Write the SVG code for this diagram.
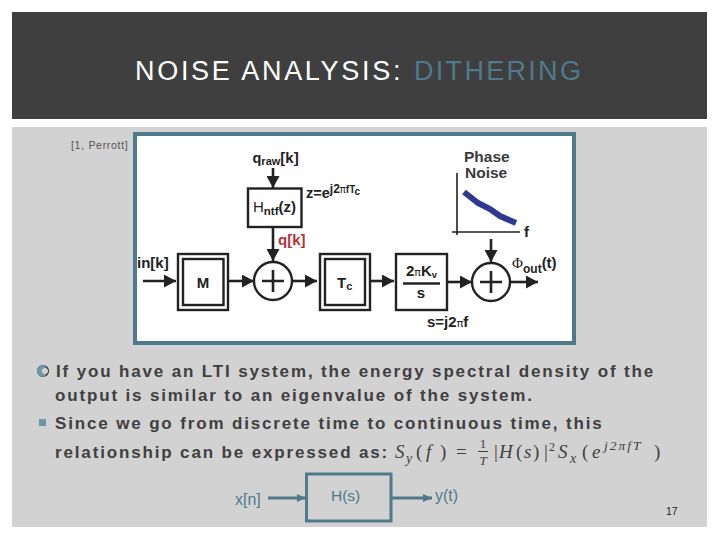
<svg xmlns="http://www.w3.org/2000/svg" width="720" height="540" viewBox="0 0 720 540">
<defs>
<marker id="a" markerUnits="userSpaceOnUse" markerWidth="12" markerHeight="13" refX="12" refY="6.5" orient="auto"><path d="M0 0L12 6.5L0 13Z" fill="#222"/></marker>
<marker id="b" markerUnits="userSpaceOnUse" markerWidth="10" markerHeight="10" refX="9" refY="5" orient="auto"><path d="M0 1L9 5L0 9Z" fill="#4f7a8b"/></marker>
</defs>
<style>
.s{font-family:"Liberation Sans",Arial,sans-serif}
.d{font-family:"Liberation Sans",Arial,sans-serif;fill:#222;font-weight:bold}
.b{font-family:"Liberation Sans",Arial,sans-serif;font-size:17px;font-weight:bold;fill:#404040;letter-spacing:1.85px}
.m{font-family:"Liberation Serif",serif;font-style:italic;fill:#404040}
.box{fill:#fff;stroke:#222;stroke-width:2.4}
.c{stroke:#222;stroke-width:2.6;fill:none}
.t{font-family:"Liberation Sans",Arial,sans-serif;fill:#4f7a8b}
</style>
<rect width="720" height="540" fill="#fff"/>
<rect x="12" y="127" width="695" height="400" fill="#d2d2d2"/>
<rect x="12" y="12" width="695" height="107" fill="#3f3f3f"/>
<text x="135" y="80" class="s" font-size="27" letter-spacing="2.7" fill="#fff">NOISE ANALYSIS:</text>
<text x="414" y="80" class="s" font-size="27" letter-spacing="2.3" fill="#4f7a8b">DITHERING</text>
<text x="71" y="149" class="s" font-size="10.5" letter-spacing="0.7" fill="#555">[1, Perrott]</text>
<rect x="135" y="134" width="439" height="209" fill="#fff" stroke="#4f7a8b" stroke-width="4"/>

<g id="connectors">
<path class="c" marker-end="url(#a)" d="M273 168V188"/>
<path class="c" marker-end="url(#a)" d="M273 227V261"/>
<path class="c" marker-end="url(#a)" d="M143 281H176"/>
<path class="c" marker-end="url(#a)" d="M229 281H254"/>
<path class="c" marker-end="url(#a)" d="M292 281H317"/>
<path class="c" marker-end="url(#a)" d="M371 281H394"/>
<path class="c" marker-end="url(#a)" d="M448 282H472"/>
<path class="c" marker-end="url(#a)" d="M491 239V262"/>
<path class="c" marker-end="url(#a)" d="M510 282H538"/>
<path stroke="#4f7a8b" stroke-width="3" fill="none" marker-end="url(#b)" d="M268 498H306"/>
<path stroke="#4f7a8b" stroke-width="3" fill="none" marker-end="url(#b)" d="M392 498H432"/>
</g>

<g id="hntf"><rect class="box" x="248" y="188.500" width="53.500" height="38.500"/><text x="253" y="212" class="d" style="font-weight:normal" font-size="15">H<tspan font-size="11.500" dy="3" font-weight="bold">ntf</tspan><tspan dy="-3" font-size="15" font-weight="bold">(z)</tspan></text></g>
<g id="m"><rect class="box" x="178" y="254" width="50" height="56"/><rect class="box" x="183" y="259" width="40.500" height="46"/><text x="203" y="288" class="d" font-size="15" text-anchor="middle">M</text></g>
<g id="sum1"><circle class="box" cx="273" cy="281" r="19"/><path class="c" d="M262 281H284M273 270V292"/></g>
<g id="tc"><rect class="box" x="320" y="254" width="50" height="56"/><rect class="box" x="325" y="259" width="40" height="46"/><text x="337" y="288" class="d" font-size="15">T<tspan font-size="11" dy="2">c</tspan></text></g>
<g id="vco"><rect class="box" x="396" y="254" width="51" height="56"/><path class="c" d="M403 283.500H440"/><text x="421.500" y="276" class="d" font-size="15" text-anchor="middle">2<tspan font-family="DejaVu Sans" font-size="11" font-weight="normal">π</tspan>K<tspan font-size="9.500" dy="2">v</tspan></text><text x="421" y="298" class="d" font-size="15" text-anchor="middle">s</text></g>
<g id="sum2"><circle class="box" cx="491" cy="282" r="19"/><path class="c" d="M480 282H502M491 271V293"/></g>
<g id="plot"><path d="M457 173V235M452 232H520" stroke="#222" stroke-width="1.600" fill="none"/><path d="M464 192L478 203L490 209L500 216L516 223" stroke="#2e3a8f" stroke-width="6" fill="none"/></g>

<text x="252.500" y="163" class="d" font-size="14.500">q<tspan font-size="11" dy="2">raw</tspan><tspan dy="-2" font-size="15">[k]</tspan></text>
<text x="306" y="198" class="d" font-size="14.500">z=e<tspan font-size="12" dy="-5">j2</tspan><tspan font-family="DejaVu Sans" font-size="10" font-weight="normal">π</tspan><tspan font-size="10">fT</tspan><tspan font-size="10" dy="2">c</tspan></text>
<text x="278" y="245" class="d" font-size="15" style="fill:#b3353a">q[k]</text>
<text x="137" y="268" class="d" font-size="15">in[k]</text>
<text x="464" y="162" class="d" font-size="15.500" style="fill:#3a3a3a">Phase</text>
<text x="465" y="178" class="d" font-size="15.500" style="fill:#3a3a3a">Noise</text>
<text x="524" y="237" class="d" font-size="15">f</text>
<text x="512" y="268" class="d" font-size="15"><tspan font-family="Liberation Serif" font-weight="normal">Φ</tspan><tspan font-size="12" dy="5">out</tspan><tspan dy="-5">(t)</tspan></text>
<text x="427" y="327" class="d" font-size="15">s=j2<tspan font-family="DejaVu Sans" font-size="11" font-weight="normal">π</tspan>f</text>

<circle cx="43" cy="371" r="6" fill="#333"/><path d="M43 365A6 6 0 0 0 43 377A4 6 0 0 0 43 365Z" fill="#6f97a8"/><circle cx="45" cy="371" r="3" fill="#d2d2d2"/>
<text x="56" y="377" class="b">If you have an LTI system, the energy spectral density of the</text>
<text x="55" y="401" class="b">output is similar to an eigenvalue of the system.</text>
<rect x="39" y="419" width="7" height="7" fill="#6f97a8"/>
<text x="55" y="429" class="b">Since we go from discrete time to continuous time, this</text>
<text x="55" y="458" class="b">relationship can be expressed as:</text>
<g class="m" font-size="19">
<text x="395" y="458">S</text><text x="406" y="463" font-size="14">y</text>
<text x="416" y="458" font-style="normal">(</text><text x="426" y="458">f</text><text x="440" y="458" font-style="normal">)</text><text x="456" y="458" font-style="normal">=</text>
<text x="483" y="448" font-size="13" font-style="normal" text-anchor="middle">1</text><path d="M478 451.500H488" stroke="#404040"/><text x="483" y="465" font-size="13" text-anchor="middle">T</text>
<text x="494" y="458" font-style="normal">|</text><text x="499" y="458">H</text><text x="516" y="458" font-style="normal">(</text><text x="524" y="458">s</text><text x="533" y="458" font-style="normal">)</text><text x="544" y="458" font-style="normal">|</text><text x="549" y="451" font-size="12" font-style="normal">2</text>
<text x="558" y="458">S</text><text x="570" y="463" font-size="14">x</text>
<text x="582" y="458" font-style="normal">(</text><text x="592" y="458">e</text><text x="604" y="450" font-size="13.500" letter-spacing="2">j2πfT</text><text x="654" y="458" font-style="normal">)</text>
</g>

<g id="hs"><rect x="306.500" y="474" width="84.500" height="47" fill="none" stroke="#4f7a8b" stroke-width="3"/><text x="331" y="501" class="t" font-size="15.500">H(s)</text></g>
<text x="235" y="505" class="t" font-size="16">x[n]</text>
<text x="435" y="501" class="t" font-size="16">y(t)</text>
<text x="666" y="515" class="s" font-size="10.500" fill="#222">17</text>
</svg>
